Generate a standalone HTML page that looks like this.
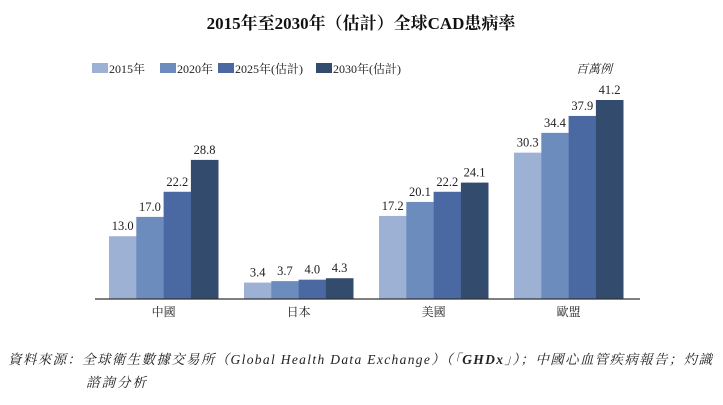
<!DOCTYPE html>
<html><head><meta charset="utf-8"><style>
body{margin:0;background:#fff;}
svg text{font-family:"Liberation Serif","Noto Serif CJK SC",serif;}
</style></head><body>
<svg width="723" height="400">
<text x="361" y="29" text-anchor="middle" font-size="17" font-weight="bold" fill="#111">2015年至2030年（估計）全球CAD患病率</text>
<g id="legend"></g>
<text x="612" y="73" text-anchor="end" font-size="12" font-style="italic" fill="#222">百萬例</text>
<g id="bars"></g>
<line x1="95" y1="299" x2="640" y2="299" stroke="#333" stroke-width="1.2"/>
<g id="xlabels"></g>
<text x="8" y="364" font-size="13.5" font-style="italic" fill="#222" textLength="704" lengthAdjust="spacing">資料來源：全球衛生數據交易所（Global Health Data Exchange）（「<tspan font-weight="bold">GHDx</tspan>」）；中國心血管疾病報告；灼識</text>
<text x="86" y="387" font-size="13.5" font-style="italic" fill="#222" textLength="60" lengthAdjust="spacing">諮詢分析</text>
</svg>
<script>
const categories=["中國","日本","美國","歐盟"];
const seriesNames=["2015年","2020年","2025年(估計)","2030年(估計)"];
const s2015=[13.0,3.4,17.2,30.3];
const s2020=[17.0,3.7,20.1,34.4];
const s2025=[22.2,4.0,22.2,37.9];
const s2030=[28.8,4.3,24.1,41.2];
const series=[s2015,s2020,s2025,s2030];
const colors=["#9db1d4","#6d8cbe","#4a69a3","#334b6c"];
const NS="http://www.w3.org/2000/svg";
const base=299, scale=4.83, bw=27.3, g0=109, gs=135;
const y=v=>base-v*scale;
const bars=document.getElementById('bars');
const xl=document.getElementById('xlabels');
function mk(t,a,p){const e=document.createElementNS(NS,t);for(const k in a)e.setAttribute(k,a[k]);p.appendChild(e);return e;}
categories.forEach((c,i)=>{
  series.forEach((s,j)=>{
    const x=g0+i*gs+j*bw;
    const r=mk('rect',{x:x,y:y(s[i]),width:bw+0.3,height:s[i]*scale,fill:colors[j]},bars);
    
    
    const t=mk('text',{x:x+bw/2,y:y(s[i])-6,'text-anchor':'middle','font-size':12.5,fill:'#222'},bars);
    t.textContent=s[i].toFixed(1);
    
    
  });
  const t=mk('text',{x:g0+i*gs+2*bw,y:316,'text-anchor':'middle','font-size':12,fill:'#222'},xl);
  t.textContent=c;
  
  
});
const lg=document.getElementById('legend');
const lx=[92,160,218,316];
seriesNames.forEach((n,j)=>{
  const r=mk('rect',{x:lx[j],y:63,width:16,height:10,fill:colors[j]},lg);
  
  
  const t=mk('text',{x:lx[j]+17,y:73,'font-size':12,fill:'#222'},lg);
  t.textContent=n;
  
  
});
</script>
</body></html>
